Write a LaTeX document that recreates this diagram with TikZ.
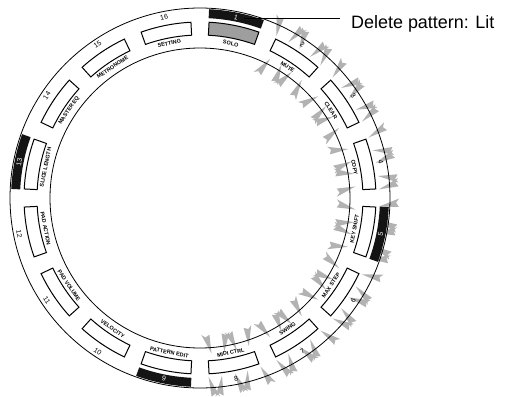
\documentclass[tikz,border=0pt]{standalone}
\usepackage{fontspec}
\setmainfont{Liberation Sans}
\usetikzlibrary{positioning,calc}

\tikzset{
  pad/.style={draw=black, line width=1bp},
  ring/.style={line width=0.8bp},
  flash/.style={fill=black!30, draw=none},
  padname/.style={font=\fontsize{5.5}{6}\selectfont\bfseries, inner sep=0pt},
  padnum/.style={font=\fontsize{7}{8}\selectfont, inner sep=0pt},
}

% one flashing mark: angle, tip radius, tail radius, tilt, half width
\newcommand{\spike}[5]{%
  \fill[flash] ({#1}:{#2}) -- ({#1+#4+#5}:{#3}) -- ({#1+#4}:{0.86*#3+0.14*#2})
    -- ({#1+#4-#5}:{#3}) -- cycle;}

\begin{document}
\begin{tikzpicture}[x=1bp,y=1bp]
  \useasboundingbox (0,0) rectangle (506,396);
  \begin{scope}[shift={(200,198)}]
    % flashing marks round pads 2 to 8
    \foreach \i in {2,...,8} {
      \pgfmathsetmacro{\a}{78.75-22.5*(\i-1)}
      \foreach \d/\t in {-8.5/1.8,-4.2/-1.4,0/1.6,4.2/-1.8,8.5/1.4}
        \spike{\a+\d}{179}{199}{\t}{1.2};
      \foreach \d/\t in {-7/-2,-2.3/1.8,2.3/-1.6,7/2}
        \spike{\a+\d}{156}{137}{\t}{1.7};
    }
    % ring
    \draw[ring] (0,0) circle[radius=190];
    \draw[ring] (0,0) circle[radius=150];
    % lit LEDs
    \foreach \i in {1,5,9,13} {
      \pgfmathsetmacro{\a}{78.75-22.5*(\i-1)}
      \fill[black!92] ({\a+8.5}:189) arc[start angle=\a+8.5, end angle=\a-8.5, radius=189]
        -- ({\a-8.5}:180) arc[start angle=\a-8.5, end angle=\a+8.5, radius=180] -- cycle;
    }
    % pads, names and numbers
    \foreach \i/\name/\down/\padcol/\numcol in {1/SOLO/0/black!38/white, 2/MUTE/0/white/black,
        3/CLEAR/0/white/black, 4/COPY/0/white/black, 5/KEY SHIFT/1/white/white,
        6/MAX STEP/1/white/black, 7/SWING/1/white/black, 8/MIDI CTRL/1/white/black,
        9/PATTERN EDIT/1/white/white, 10/VELOCITY/1/white/black, 11/PAD VOLUME/1/white/black,
        12/PAD ACTION/1/white/black, 13/SLICE LENGTH/0/white/white, 14/MASTER EQ/0/white/black,
        15/METRONOME/0/white/black, 16/SETTING/0/white/black} {
      \pgfmathsetmacro{\a}{78.75-22.5*(\i-1)}
      \pgfmathsetmacro{\rot}{\a-90+180*\down}
      \filldraw[pad, fill=\padcol] ({\a+8.3}:176) arc[start angle=\a+8.3, end angle=\a-8.3, radius=176]
        -- ({\a-8.3}:163) arc[start angle=\a-8.3, end angle=\a+8.3, radius=163] -- cycle;
      \node[padname, rotate=\rot] (name\i) at (\a:157.5) {\name};
      \node[padnum, rotate=\rot, text=\numcol] (num\i) at (\a:184.3) {\i};
    }
    \coordinate (led1) at (76.2:184.5);
  \end{scope}
  % callout
  \node[font=\fontsize{18}{20}\selectfont, anchor=base west, inner sep=0pt] (lit) at (351,368)
    {Delete pattern: Lit};
  \draw[ring, shorten >=11bp] (led1) -- (led1 -| lit.west);
\end{tikzpicture}
\end{document}
